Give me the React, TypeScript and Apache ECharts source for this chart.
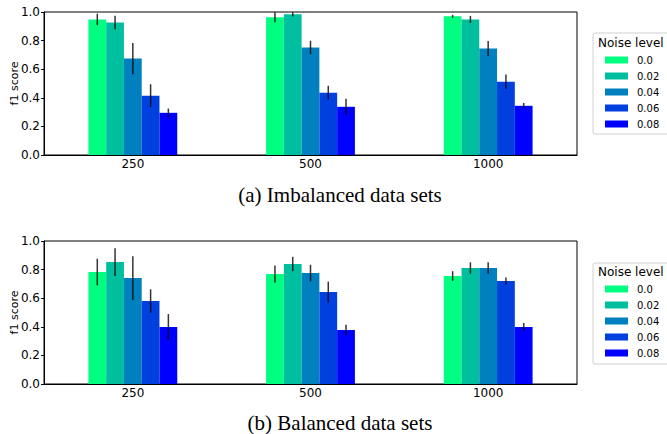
import React, { useEffect, useRef } from "react";
import * as echarts from "echarts";

const categories = ["250", "500", "1000"];
const noiseLevels = ["0.0", "0.02", "0.04", "0.06", "0.08"];
const colors = ["#00FF80", "#00BF9F", "#0080BF", "#0040DF", "#0000FF"];
const yTicks = [0, 0.2, 0.4, 0.6, 0.8, 1.0];

// Imbalanced data sets: mean f1 per noise level, for each data set size
const imbMean250 = [0.948, 0.927, 0.674, 0.415, 0.295];
const imbErr250 = [0.04, 0.047, 0.11, 0.08, 0.03];
const imbMean500 = [0.963, 0.984, 0.752, 0.436, 0.337];
const imbErr500 = [0.035, 0.015, 0.047, 0.048, 0.056];
const imbMean1000 = [0.97, 0.948, 0.745, 0.513, 0.344];
const imbErr1000 = [0.01, 0.025, 0.053, 0.05, 0.02];

// Balanced data sets
const balMean250 = [0.783, 0.853, 0.741, 0.58, 0.399];
const balErr250 = [0.093, 0.097, 0.153, 0.082, 0.09];
const balMean500 = [0.769, 0.839, 0.776, 0.643, 0.378];
const balErr500 = [0.06, 0.05, 0.058, 0.073, 0.037];
const balMean1000 = [0.755, 0.811, 0.811, 0.72, 0.399];
const balErr1000 = [0.034, 0.04, 0.04, 0.025, 0.028];

const captions = ["(a) Imbalanced data sets", "(b) Balanced data sets"];
const legendTitle = "Noise level";
const yName = "f1 score";

const FONT = "DejaVu Sans";

export default function App() {
  const ref = useRef<HTMLDivElement>(null);
  useEffect(() => {
    if (!ref.current) return;
    const chart = echarts.init(ref.current, null, { renderer: "svg" });
    const panels = [
      { means: [imbMean250, imbMean500, imbMean1000], errs: [imbErr250, imbErr500, imbErr1000] },
      { means: [balMean250, balMean500, balMean1000], errs: [balErr250, balErr500, balErr1000] },
    ];
    const gridTops = [12, 241];
    const H = 143;
    const series: any[] = [];
    panels.forEach((p, g) => {
      noiseLevels.forEach((n, i) => {
        series.push({
          type: "bar",
          name: n,
          xAxisIndex: g,
          yAxisIndex: g,
          data: p.means.map((m) => m[i]),
          itemStyle: { color: colors[i] },
          barGap: "0%",
          barCategoryGap: "50%",
          emphasis: { disabled: true },
        });
      });
      const errData: number[][] = [];
      p.means.forEach((m, c) => {
        m.forEach((v, i) => errData.push([c, v, p.errs[c][i], i]));
      });
      series.push({
        type: "custom",
        name: "err" + g,
        xAxisIndex: g,
        yAxisIndex: g,
        z: 5,
        encode: { x: 0, y: 1 },
        data: errData,
        renderItem: (params: any, api: any) => {
          const c = api.value(0);
          const m = api.value(1);
          const e = api.value(2);
          const k = api.value(3);
          const band = api.size([1, 0])[0];
          const off = (k - 2) * band * 0.1;
          const top = api.coord([c, m + e]);
          const bot = api.coord([c, m - e]);
          return {
            type: "line",
            shape: { x1: top[0] + off, y1: top[1], x2: top[0] + off, y2: bot[1] },
            style: { stroke: "#000", lineWidth: 1.5, opacity: 0.8 },
          };
        },
      });
    });

    const option: any = {
      animation: false,
      textStyle: { fontFamily: FONT },
      grid: gridTops.map((t) => ({
        left: 44,
        right: 90,
        top: t,
        height: H,
        show: true,
        borderColor: "#000",
        borderWidth: 1,
        backgroundColor: "transparent",
        containLabel: false,
        outerBoundsMode: "none",
      })),
      xAxis: gridTops.map((_, g) => ({
        type: "category",
        gridIndex: g,
        data: categories,
        axisLine: { lineStyle: { color: "#000", width: 1 } },
        axisTick: { alignWithLabel: true, length: 3, inside: false, lineStyle: { color: "#000" } },
        axisLabel: { color: "#000", fontSize: 12, fontFamily: FONT, margin: 3 },
      })),
      yAxis: gridTops.map((_, g) => ({
        type: "value",
        gridIndex: g,
        min: yTicks[0],
        max: yTicks[yTicks.length - 1],
        interval: 0.2,
        name: yName,
        nameLocation: "middle",
        nameGap: 24,
        nameMoveOverlap: false,
        nameTextStyle: { color: "#000", fontSize: 11, fontFamily: FONT },
        splitLine: { show: false },
        axisLine: { show: true, lineStyle: { color: "#000", width: 1 } },
        axisTick: { show: true, length: 3, lineStyle: { color: "#000" } },
        axisLabel: {
          color: "#000",
          fontSize: 12,
          fontFamily: FONT,
          margin: 4,
          formatter: (v: number) => v.toFixed(1),
        },
      })),
      legend: [54, 283].map((t) => ({
        data: noiseLevels,
        orient: "vertical",
        left: 605,
        top: t,
        padding: 0,
        itemWidth: 23,
        itemHeight: 7,
        itemGap: 4,
        icon: "rect",
        selectedMode: false,
        textStyle: { fontSize: 10, lineHeight: 12, color: "#000", fontFamily: FONT, padding: [0, 0, 0, 4] },
      })),
      graphic: [
        ...[33, 263].map((t) => ({
          type: "rect",
          shape: { x: 593, y: t, width: 90, height: 101, r: 2 },
          style: { fill: "#fff", stroke: "#d0d0d0", lineWidth: 1 },
          z: -1,
        })),
        ...[43, 272].map((t) => ({
          type: "text",
          x: 598,
          y: t,
          style: { text: legendTitle, fontSize: 12, fontFamily: FONT, fill: "#000", verticalAlign: "middle" },
        })),
        ...[195, 423].map((t, i) => ({
          type: "text",
          x: 340,
          y: t,
          style: {
            text: captions[i],
            fontSize: 21,
            fontFamily: "Liberation Serif",
            fill: "#000",
            align: "center",
            verticalAlign: "middle",
          },
        })),
      ],
      series,
    };
    chart.setOption(option);
    return () => chart.dispose();
  }, []);
  return <div ref={ref} style={{ width: 667, height: 434, position: "absolute", left: 0, top: 0 }} />;
}
